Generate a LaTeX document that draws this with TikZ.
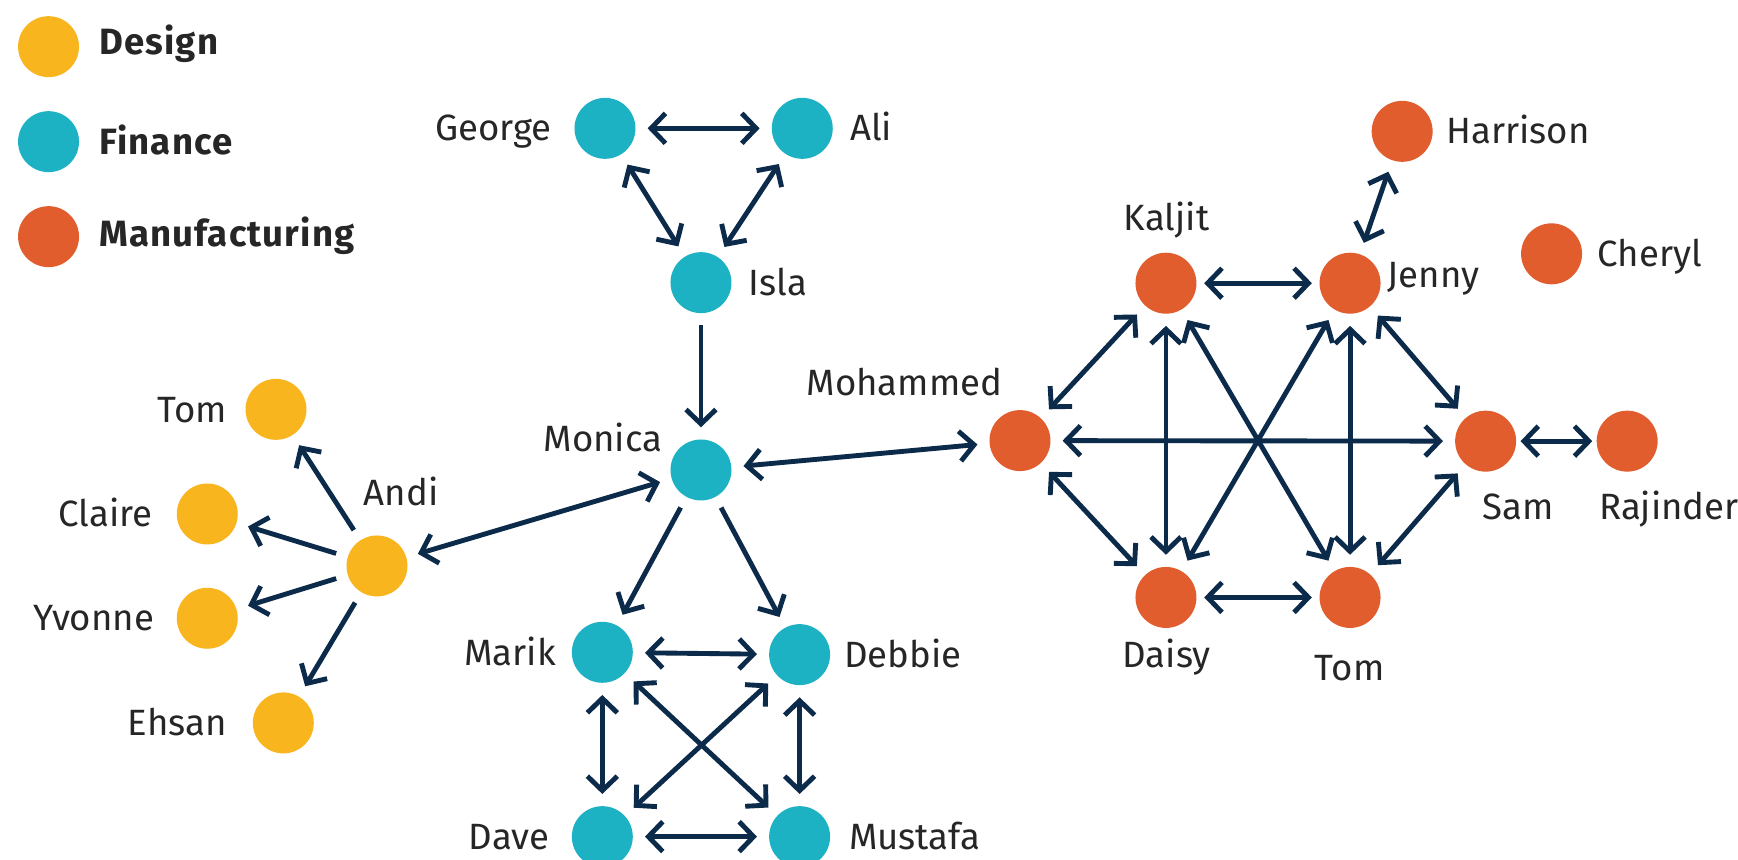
\documentclass[tikz,border=0pt]{standalone}
\usepackage{fontspec}
\setmainfont{Fira Sans}
\usetikzlibrary{arrows.meta}
\definecolor{dsg}{HTML}{F9B51E}
\definecolor{fin}{HTML}{1CB2C4}
\definecolor{mfg}{HTML}{E15D2E}
\definecolor{edgec}{HTML}{0C2A4A}
\definecolor{txt}{HTML}{262626}
\begin{document}
\begin{tikzpicture}[x=1pt,y=-1pt,
  >={Straight Barb[length=13pt,width=27pt,line cap=butt,line join=miter]},
  person/.style={circle,minimum size=55pt,inner sep=0pt,outer sep=11pt,draw=none},
  dnode/.style={person,fill=dsg},
  fnode/.style={person,fill=fin},
  mnode/.style={person,fill=mfg},
  lbl/.style={inner sep=0pt,outer sep=0pt,text=txt,font=\fontsize{33}{40}\selectfont},
  leg/.style={inner sep=0pt,outer sep=0pt,text=txt,font=\fontsize{33}{40}\selectfont\bfseries\addfontfeature{LetterSpace=3}},
  link/.style={draw=edgec,line width=4.4pt,<->},
  dirlink/.style={draw=edgec,line width=4.4pt,->},
  near/.style={shorten <=-#1,shorten >=-#1}]
\clip (0,0) rectangle (1568,775);
\fill[white] (0,0) rectangle (1568,775);
% legend
\node[dnode] (lgD) at (43.8,42.1) {};
\node[fnode] (lgF) at (43.8,127.8) {};
\node[mnode] (lgM) at (43.8,213.5) {};
\node[leg,anchor=base west] (lgDt) at (89.8,49.6) {Design};
\node[leg,anchor=base west] (lgFt) at (89.8,139.8) {Finance};
\node[leg,anchor=base west] (lgMt) at (89.8,222) {Manufacturing};
% finance
\node[fnode] (george) at (545.8,115.8) {};
\node[fnode] (ali) at (723.8,115.8) {};
\node[fnode] (isla) at (632.4,255) {};
\node[fnode] (monica) at (632.4,424) {};
\node[fnode] (marik) at (543.4,588.5) {};
\node[fnode] (debbie) at (721.4,590.6) {};
\node[fnode] (dave) at (543.4,754.8) {};
\node[fnode] (mustafa) at (721.4,754.8) {};
% design
\node[dnode] (andi) at (340.1,510.6) {};
\node[dnode] (tomd) at (249,369.3) {};
\node[dnode] (claire) at (187,463.7) {};
\node[dnode] (yvonne) at (187,557.8) {};
\node[dnode] (ehsan) at (255.6,652.2) {};
% manufacturing
\node[mnode] (mohammed) at (920.2,397.5) {};
\node[mnode] (kaljit) at (1051.9,255.5) {};
\node[mnode] (jenny) at (1218,255.5) {};
\node[mnode] (harrison) at (1265,118.5) {};
\node[mnode] (cheryl) at (1399.8,229) {};
\node[mnode] (sam) at (1340.3,398) {};
\node[mnode] (rajinder) at (1468,398) {};
\node[mnode] (daisy) at (1051.9,539) {};
\node[mnode] (tomm) at (1218,539) {};
% labels
\node[lbl,anchor=base east] (tGeorge) at (497.7,127.2) {George};
\node[lbl,anchor=base west] (tAli) at (767,127.2) {Ali};
\node[lbl,anchor=base west] (tIsla) at (675.5,266.3) {Isla};
\node[lbl,anchor=base] (tMonica) at (544,407.5) {Monica};
\node[lbl,anchor=base] (tAndi) at (362,456.5) {Andi};
\node[lbl,anchor=base east] (tTomd) at (204.5,381) {Tom};
\node[lbl,anchor=base east] (tClaire) at (137.5,475) {Claire};
\node[lbl,anchor=base east] (tYvonne) at (139,569) {Yvonne};
\node[lbl,anchor=base east] (tEhsan) at (204.5,663.5) {Ehsan};
\node[lbl,anchor=base east] (tMarik) at (501.5,600) {Marik};
\node[lbl,anchor=base west] (tDebbie) at (761.5,602) {Debbie};
\node[lbl,anchor=base east] (tDave) at (495.5,766.8) {Dave};
\node[lbl,anchor=base west] (tMustafa) at (766,766.8) {Mustafa};
\node[lbl,anchor=base] (tMohammed) at (816,357) {Mohammed};
\node[lbl,anchor=base] (tKaljit) at (1052.5,208) {Kaljit};
\node[lbl,anchor=base] (tDaisy) at (1052.5,602) {Daisy};
\node[lbl,anchor=base west] (tHarrison) at (1305,129.7) {Harrison};
\node[lbl,anchor=base west] (tJenny) at (1252,259) {Jenny};
\node[lbl,anchor=base west] (tCheryl) at (1441.5,240.5) {Cheryl};
\node[lbl,anchor=base] (tSam) at (1369.7,469) {Sam};
\node[lbl,anchor=base] (tRajinder) at (1505.8,469) {Rajinder};
\node[lbl,anchor=base] (tTomm) at (1217.5,613.5) {Tom};
% finance edges
\draw[link] (george) -- (ali);
\draw[link] (george) -- (isla);
\draw[link] (ali) -- (isla);
\draw[dirlink] (isla) -- (monica);
\draw[link] (monica) -- (andi);
\draw[link] (mohammed) -- (monica);
\draw[dirlink] (monica) -- (marik);
\draw[dirlink] (monica) -- (debbie);
\draw[link] (marik) -- (debbie);
\draw[link] (marik) -- (dave);
\draw[link] (marik) -- (mustafa);
\draw[link] (debbie) -- (dave);
\draw[link] (debbie) -- (mustafa);
\draw[link] (dave) -- (mustafa);
% design edges
\draw[dirlink] (andi) -- (tomd);
\draw[dirlink] (andi) -- (claire);
\draw[dirlink] (andi) -- (yvonne);
\draw[dirlink] (andi) -- (ehsan);
% manufacturing edges
\draw[link] (mohammed) -- (kaljit);
\draw[link] (mohammed) -- (sam);
\draw[link] (mohammed) -- (daisy);
\draw[link,near=4pt] (kaljit) -- (jenny);
\draw[link] (kaljit) -- (daisy);
\draw[link] (kaljit) -- (tomm);
\draw[link] (jenny) -- (daisy);
\draw[link] (jenny) -- (tomm);
\draw[link] (jenny) -- (sam);
\draw[link] (jenny) -- (harrison);
\draw[link,near=4pt] (daisy) -- (tomm);
\draw[link] (tomm) -- (sam);
\draw[link,near=7pt] (sam) -- (rajinder);
\end{tikzpicture}
\end{document}
